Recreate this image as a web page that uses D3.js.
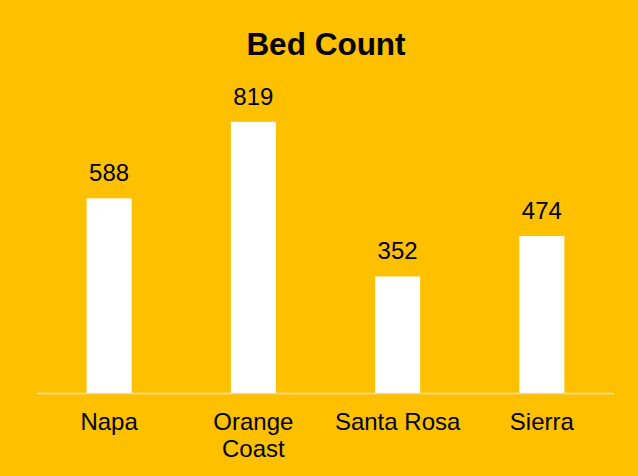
<html lang="en">
<head>
<title>Bed Count</title>
<script src="https://d3js.org/d3.v7.min.js"></script>
<style>
  body { margin: 0; background: #FFC000; }
  svg { display: block; font-family: "Liberation Sans", Arial, sans-serif; }
</style>
</head>
<body>
<script>
// data
var categories = ["Napa", "Orange Coast", "Santa Rosa", "Sierra"];
var beds = [588, 819, 352, 474];

var width = 638, height = 476;
var left = 37, right = 614, baseY = 393;

var svg = d3.select("body").append("svg")
    .attr("width", width)
    .attr("height", height);

svg.append("rect")
    .attr("width", width).attr("height", height)
    .attr("fill", "#FFC000");

// title
svg.append("text")
    .attr("x", 326).attr("y", 55)
    .attr("text-anchor", "middle")
    .attr("font-size", 31.5)
    .attr("font-weight", "bold")
    .attr("fill", "#000")
    .text("Bed Count");

var x = d3.scaleBand()
    .domain(categories)
    .range([left, right])
    .paddingInner(0.688)
    .paddingOuter(0.344);

var y = d3.scaleLinear()
    .domain([0, 900])
    .range([baseY, baseY - 298]);

var data = categories.map(function(c, i) { return {name: c, value: beds[i]}; });

// bars
svg.append("g").selectAll("rect")
    .data(data)
    .enter().append("rect")
    .attr("x", function(d) { return x(d.name); })
    .attr("y", function(d) { return y(d.value); })
    .attr("width", x.bandwidth())
    .attr("height", function(d) { return baseY - y(d.value); })
    .attr("fill", "#fff");

// value labels
svg.append("g").selectAll("text")
    .data(data)
    .enter().append("text")
    .attr("x", function(d) { return x(d.name) + x.bandwidth() / 2; })
    .attr("y", function(d) { return y(d.value) - 17; })
    .attr("text-anchor", "middle")
    .attr("font-size", 24)
    .attr("fill", "#000")
    .text(function(d) { return d.value; });

// baseline
svg.append("line")
    .attr("x1", left).attr("x2", right)
    .attr("y1", baseY + 0.5).attr("y2", baseY + 0.5)
    .attr("stroke", "#d9d9d9")
    .attr("stroke-width", 1.5);

// category labels (wrap "Orange Coast")
var cat = svg.append("g").selectAll("text")
    .data(data)
    .enter().append("text")
    .attr("text-anchor", "middle")
    .attr("font-size", 24)
    .attr("fill", "#000");

cat.each(function(d) {
    var words = d.name === "Orange Coast" ? ["Orange", "Coast"] : [d.name];
    var t = d3.select(this);
    words.forEach(function(w, i) {
        t.append("tspan")
            .attr("x", x(d.name) + x.bandwidth() / 2)
            .attr("y", 430 + i * 27)
            .text(w);
    });
});
</script>
</body>
</html>
